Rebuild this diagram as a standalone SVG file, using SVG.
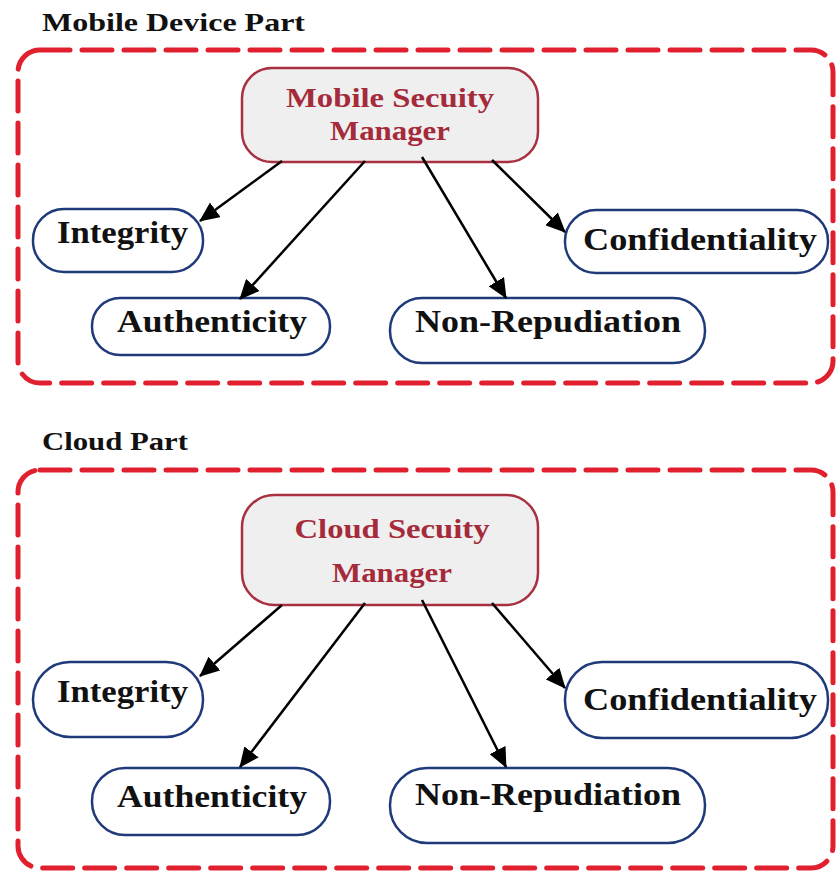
<svg xmlns="http://www.w3.org/2000/svg" width="837" height="871" viewBox="0 0 837 871">
<style>
.part{fill:none;stroke:#e0202e;stroke-width:5;stroke-dasharray:30 12;stroke-linecap:round}
.title{font-family:"Liberation Serif",serif;font-weight:bold;font-size:25px;fill:#111}
.mgr{fill:#efeff0;stroke:#a83040;stroke-width:2.5}
.mgrt{font-family:"Liberation Serif",serif;font-weight:bold;font-size:27px;fill:#a52a3a;text-anchor:middle}
.node{fill:#fff;stroke:#1f3a7a;stroke-width:2.5}
.nt{font-family:"Liberation Serif",serif;font-weight:bold;font-size:31px;fill:#111}
.edge{stroke:#000;stroke-width:2.5;fill:none;marker-end:url(#ah)}
</style>
<defs>
<marker id="ah" viewBox="0 0 20 18" refX="19" refY="9" markerWidth="20" markerHeight="18" markerUnits="userSpaceOnUse" orient="auto">
<path d="M0,0 L20,9 L0,18 z" fill="#000"/>
</marker>
</defs>
<rect width="837" height="871" fill="#fff"/>
<g id="mobile-part">
<text class="title" x="42" y="31" textLength="263" lengthAdjust="spacingAndGlyphs">Mobile Device Part</text>
<rect class="part" x="18" y="50" width="815" height="333" rx="22"/>
</g>
<g id="cloud-part">
<text class="title" x="42" y="450" textLength="146" lengthAdjust="spacingAndGlyphs">Cloud Part</text>
<rect class="part" x="18" y="470" width="815" height="398" rx="22"/>
</g>
<g id="mobile-manager">
<rect class="mgr" x="242" y="68" width="296" height="94" rx="30"/>
<text class="mgrt" x="390" y="107" textLength="208" lengthAdjust="spacingAndGlyphs">Mobile Secuity</text>
<text class="mgrt" x="390" y="140" textLength="120" lengthAdjust="spacingAndGlyphs">Manager</text>
</g>
<g id="m-integrity">
<rect class="node" x="33" y="209" width="170" height="63" rx="31"/>
<text class="nt" x="57" y="243" textLength="131" lengthAdjust="spacingAndGlyphs">Integrity</text>
</g>
<g id="m-authenticity">
<rect class="node" x="92" y="298" width="238" height="57" rx="28"/>
<text class="nt" x="117" y="332" textLength="190" lengthAdjust="spacingAndGlyphs">Authenticity</text>
</g>
<g id="m-nonrep">
<rect class="node" x="390" y="298" width="315" height="65" rx="32"/>
<text class="nt" x="415" y="332" textLength="266" lengthAdjust="spacingAndGlyphs">Non-Repudiation</text>
</g>
<g id="m-confidentiality">
<rect class="node" x="565" y="210" width="263" height="63" rx="31"/>
<text class="nt" x="583" y="250" textLength="234" lengthAdjust="spacingAndGlyphs">Confidentiality</text>
</g>
<g id="cloud-manager">
<rect class="mgr" x="242" y="495" width="296" height="110" rx="32"/>
<text class="mgrt" x="392" y="538" textLength="195" lengthAdjust="spacingAndGlyphs">Cloud Secuity</text>
<text class="mgrt" x="392" y="582" textLength="120" lengthAdjust="spacingAndGlyphs">Manager</text>
</g>
<g id="c-integrity">
<rect class="node" x="33" y="662" width="170" height="75" rx="37"/>
<text class="nt" x="57" y="702" textLength="131" lengthAdjust="spacingAndGlyphs">Integrity</text>
</g>
<g id="c-authenticity">
<rect class="node" x="92" y="768" width="238" height="67" rx="33"/>
<text class="nt" x="117" y="807" textLength="190" lengthAdjust="spacingAndGlyphs">Authenticity</text>
</g>
<g id="c-nonrep">
<rect class="node" x="390" y="768" width="315" height="75" rx="37"/>
<text class="nt" x="415" y="805" textLength="266" lengthAdjust="spacingAndGlyphs">Non-Repudiation</text>
</g>
<g id="c-confidentiality">
<rect class="node" x="565" y="662" width="263" height="76" rx="37"/>
<text class="nt" x="583" y="710" textLength="234" lengthAdjust="spacingAndGlyphs">Confidentiality</text>
</g>
<g id="connectors">
<line class="edge" x1="282" y1="161" x2="200" y2="221"/>
<line class="edge" x1="365" y1="161" x2="240" y2="299"/>
<line class="edge" x1="422" y1="157" x2="506" y2="298"/>
<line class="edge" x1="492" y1="160" x2="565" y2="232"/>
<line class="edge" x1="282" y1="605" x2="200" y2="676"/>
<line class="edge" x1="365" y1="603" x2="240" y2="767"/>
<line class="edge" x1="422" y1="600" x2="506" y2="767"/>
<line class="edge" x1="492" y1="603" x2="565" y2="688"/>
</g>
</svg>
